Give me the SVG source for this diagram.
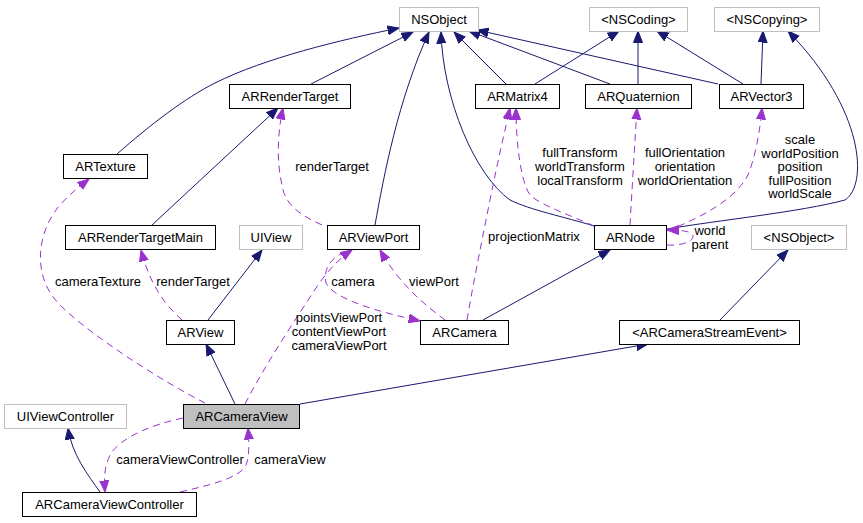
<svg xmlns="http://www.w3.org/2000/svg" width="863" height="523" viewBox="0 0 863 523">
<style>
text{font-family:"Liberation Sans",Arial,sans-serif;font-size:13px;fill:#000;text-anchor:middle}
.n rect{fill:#fff;stroke:#000;stroke-width:1}
.g rect{stroke:#bfbfbf}
.cur rect{fill:#bfbfbf}
.e{fill:none;stroke:#191970;stroke-width:1}
.d{fill:none;stroke:#9a32cd;stroke-width:1;stroke-dasharray:7,5}
</style>
<defs>
<marker id="ab" markerUnits="userSpaceOnUse" markerWidth="13" markerHeight="11" refX="11.5" refY="5" orient="auto"><path d="M0,0.5 L11.5,5 L0,9.5 z" fill="#191970" stroke="#191970"/></marker>
<marker id="ap" markerUnits="userSpaceOnUse" markerWidth="13" markerHeight="11" refX="11.5" refY="5" orient="auto"><path d="M0,0.5 L11.5,5 L0,9.5 z" fill="#9a32cd" stroke="#9a32cd"/></marker>
</defs>
<rect width="863" height="523" fill="#fff"/>
<g id="edges">
<path class="e" marker-end="url(#ab)" d="M117,154 C150,125 185,98 215,83 C265,58 340,40 399,28"/>
<path class="e" marker-end="url(#ab)" d="M311,84 L413,32"/>
<path class="e" marker-end="url(#ab)" d="M152,225 L278,108"/>
<path class="e" marker-end="url(#ab)" d="M375,225 C384,175 398,100 429,32"/>
<path class="e" marker-end="url(#ab)" d="M594,226 C565,217 530,210 510,200 C475,175 443,100 441,32"/>
<path class="e" marker-end="url(#ab)" d="M506,84 L454,32"/>
<path class="e" marker-end="url(#ab)" d="M610,84 L469,31"/>
<path class="e" marker-end="url(#ab)" d="M718,84 L477,30"/>
<path class="e" marker-end="url(#ab)" d="M535,84 L619,31"/>
<path class="e" marker-end="url(#ab)" d="M638,84 L638,31"/>
<path class="e" marker-end="url(#ab)" d="M743,84 L657,31"/>
<path class="e" marker-end="url(#ab)" d="M761,84 L763,31"/>
<path class="e" marker-end="url(#ab)" d="M667,229 C720,220 800,212 845,200 C868,185 865,110 788,31"/>
<path class="e" marker-end="url(#ab)" d="M483,320 L610,250"/>
<path class="e" marker-end="url(#ab)" d="M720,320 L788,250"/>
<path class="e" marker-end="url(#ab)" d="M208,320 L262,250"/>
<path class="e" marker-end="url(#ab)" d="M235,404 L206,344"/>
<path class="e" marker-end="url(#ab)" d="M300,404 L648,344"/>
<path class="e" marker-end="url(#ab)" d="M100,492 C88,475 72,455 68,428"/>
<path class="d" marker-end="url(#ap)" d="M205,403 C160,380 90,335 60,305 C30,275 38,230 60,205 C68,196 76,189 89,179"/>
<path class="d" marker-end="url(#ap)" d="M182,320 C165,305 150,285 141,250"/>
<path class="d" marker-end="url(#ap)" d="M322,225 C300,215 285,205 282,185 C276,160 278,130 283,108"/>
<path class="d" marker-end="url(#ap)" d="M245,404 C265,365 295,320 318,285 C330,268 340,258 352,250"/>
<path class="d" marker-end="url(#ap)" d="M345,252 C330,258 323,270 326,283 C335,300 380,312 420,321"/>
<path class="d" marker-end="url(#ap)" d="M445,320 C425,305 400,285 380,250"/>
<path class="d" marker-end="url(#ap)" d="M467,320 C472,290 480,250 490,200 C498,160 505,130 510,108"/>
<path class="d" marker-end="url(#ap)" d="M594,226 C570,215 540,205 530,195 C520,180 516,140 516,108"/>
<path class="d" marker-end="url(#ap)" d="M630,225 C632,190 635,140 637,108"/>
<path class="d" marker-end="url(#ap)" d="M667,231 C700,218 735,200 748,175 C756,155 760,130 762,108"/>
<path class="d" marker-end="url(#ap)" d="M667,245 C680,246 692,242 693,237 C694,232 685,230 667,230"/>
<path class="d" marker-end="url(#ap)" d="M183,418 C150,425 120,438 110,455 C104,468 104,478 105,492"/>
<path class="d" marker-end="url(#ap)" d="M180,492 C210,485 240,478 246,465 C250,455 249,440 248,428"/>
<text x="98" y="286">cameraTexture</text>
<text x="193" y="286">renderTarget</text>
<text x="332" y="171">renderTarget</text>
<text x="339" y="322">pointsViewPort</text>
<text x="339" y="336">contentViewPort</text>
<text x="339" y="350">cameraViewPort</text>
<text x="353" y="286">camera</text>
<text x="434" y="286">viewPort</text>
<text x="534" y="241">projectionMatrix</text>
<text x="580" y="157">fullTransform</text>
<text x="580" y="171">worldTransform</text>
<text x="580" y="185">localTransform</text>
<text x="685" y="157">fullOrientation</text>
<text x="685" y="171">orientation</text>
<text x="685" y="185">worldOrientation</text>
<text x="800" y="144">scale</text>
<text x="800" y="157.5">worldPosition</text>
<text x="800" y="171">position</text>
<text x="800" y="184.5">fullPosition</text>
<text x="800" y="198">worldScale</text>
<text x="710" y="235">world</text>
<text x="710" y="248.5">parent</text>
<text x="180" y="464">cameraViewController</text>
<text x="290" y="464">cameraView</text>
</g>
<g id="NSObject" class="n g"><rect x="399.5" y="7.5" width="79" height="24"/><text x="439" y="24">NSObject</text></g>
<g id="NSCoding" class="n g"><rect x="589.5" y="7.5" width="98" height="24"/><text x="638.5" y="24">&lt;NSCoding&gt;</text></g>
<g id="NSCopying" class="n g"><rect x="714.5" y="7.5" width="105" height="24"/><text x="767" y="24">&lt;NSCopying&gt;</text></g>
<g id="ARRenderTarget" class="n"><rect x="229.5" y="84.5" width="121" height="24"/><text x="290" y="101">ARRenderTarget</text></g>
<g id="ARMatrix4" class="n"><rect x="475.5" y="84.5" width="84" height="24"/><text x="517.5" y="101">ARMatrix4</text></g>
<g id="ARQuaternion" class="n"><rect x="585.5" y="84.5" width="106" height="24"/><text x="638.5" y="101">ARQuaternion</text></g>
<g id="ARVector3" class="n"><rect x="719.5" y="84.5" width="84" height="24"/><text x="761.5" y="101">ARVector3</text></g>
<g id="ARTexture" class="n"><rect x="63.5" y="154.5" width="84" height="24"/><text x="105.5" y="171">ARTexture</text></g>
<g id="ARRenderTargetMain" class="n"><rect x="65.5" y="225.5" width="150" height="24"/><text x="140.5" y="242">ARRenderTargetMain</text></g>
<g id="UIView" class="n g"><rect x="239.5" y="225.5" width="63" height="24"/><text x="271" y="242">UIView</text></g>
<g id="ARViewPort" class="n"><rect x="327.5" y="225.5" width="92" height="24"/><text x="373.5" y="242">ARViewPort</text></g>
<g id="ARNode" class="n"><rect x="594.5" y="225.5" width="72" height="24"/><text x="630.5" y="242">ARNode</text></g>
<g id="NSObjectProtocol" class="n g"><rect x="751.5" y="225.5" width="95" height="24"/><text x="799" y="242">&lt;NSObject&gt;</text></g>
<g id="ARView" class="n"><rect x="166.5" y="320.5" width="68" height="24"/><text x="200.5" y="337">ARView</text></g>
<g id="ARCamera" class="n"><rect x="420.5" y="320.5" width="88" height="24"/><text x="464.5" y="337">ARCamera</text></g>
<g id="ARCameraStreamEvent" class="n"><rect x="619.5" y="320.5" width="180" height="24"/><text x="709.5" y="337">&lt;ARCameraStreamEvent&gt;</text></g>
<g id="UIViewController" class="n g"><rect x="4.5" y="404.5" width="122" height="24"/><text x="65.5" y="421">UIViewController</text></g>
<g id="ARCameraView" class="n cur"><rect x="183.5" y="404.5" width="116" height="24"/><text x="241.5" y="421">ARCameraView</text></g>
<g id="ARCameraViewController" class="n"><rect x="22.5" y="492.5" width="174" height="24"/><text x="109.5" y="509">ARCameraViewController</text></g>
</svg>
